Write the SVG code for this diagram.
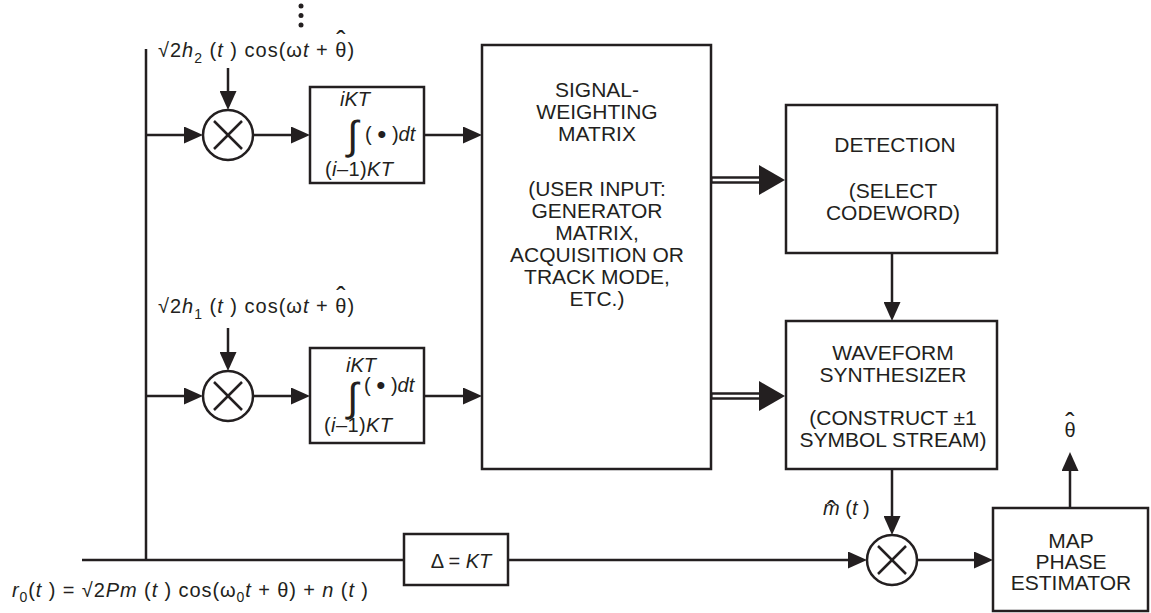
<svg xmlns="http://www.w3.org/2000/svg" width="1151" height="613" viewBox="0 0 1151 613">
<style>
.ln{stroke:#231f20;stroke-width:2.5;fill:none}
.bx{stroke:#231f20;stroke-width:2.5;fill:#fff}
.t{font-family:"Liberation Sans",Arial,sans-serif;font-size:20px;fill:#231f20}
.lb{letter-spacing:1px}
.b{font-family:"Liberation Sans",Arial,sans-serif;font-size:21px;fill:#231f20;text-anchor:middle}
.i{font-style:italic}
.hs{font-size:28px;font-style:normal}
.bu{font-size:26px}
.ig{font-family:"Liberation Sans","DejaVu Sans",sans-serif;font-size:40px;fill:#231f20;text-anchor:middle}
.ar{marker-end:url(#ah)}
.dbl{stroke:#231f20;stroke-width:7.7;fill:none;marker-end:url(#big)}
.dblw{stroke:#fff;stroke-width:2.4;fill:none}
</style>
<defs>
<marker id="ah" markerUnits="userSpaceOnUse" markerWidth="19" markerHeight="17" viewBox="0 0 19 17" refX="9" refY="8.5" orient="auto"><path d="M0,0 L19,8.5 L0,17 z" fill="#231f20"/></marker>
<marker id="big" markerUnits="userSpaceOnUse" markerWidth="26" markerHeight="30" viewBox="0 0 26 30" refX="12" refY="15" orient="auto"><path d="M0,0 L26,15 L0,30 z" fill="#231f20"/></marker>
</defs>

<g id="connectors">
<line class="ln" x1="146" y1="49" x2="146" y2="560"/>
<line class="ln" x1="82" y1="560" x2="404" y2="560"/>
<line class="ln ar" x1="146" y1="135" x2="193" y2="135"/>
<line class="ln ar" x1="146" y1="396" x2="193" y2="396"/>
<line class="ln ar" x1="228" y1="68" x2="228" y2="100"/>
<line class="ln ar" x1="228" y1="328" x2="228" y2="361"/>
<line class="ln ar" x1="253" y1="135" x2="300" y2="135"/>
<line class="ln ar" x1="253" y1="396" x2="300" y2="396"/>
<line class="ln ar" x1="424" y1="135" x2="472" y2="135"/>
<line class="ln ar" x1="424" y1="396" x2="472" y2="396"/>
<line class="dbl" x1="711" y1="180" x2="771" y2="180"/>
<line class="dblw" x1="712.5" y1="180" x2="759" y2="180"/>
<line class="dbl" x1="711" y1="396" x2="771" y2="396"/>
<line class="dblw" x1="712.5" y1="396" x2="759" y2="396"/>
<line class="ln ar" x1="892" y1="253" x2="892" y2="311"/>
<line class="ln ar" x1="892" y1="469" x2="892" y2="525"/>
<line class="ln ar" x1="508" y1="560" x2="857" y2="560"/>
<line class="ln ar" x1="917" y1="560" x2="983" y2="560"/>
<line class="ln ar" x1="1070" y1="508" x2="1070" y2="462"/>
</g>

<g id="dots">
<circle cx="301" cy="6" r="2.5" fill="#231f20"/>
<circle cx="301" cy="15.5" r="2.5" fill="#231f20"/>
<circle cx="301" cy="25" r="2.5" fill="#231f20"/>
</g>

<g id="label-h2">
<text class="t lb" x="158" y="57">√2<tspan class="i">h</tspan><tspan dy="6" font-size="14">2</tspan><tspan dy="-6"> (</tspan><tspan class="i">t</tspan> ) cos(ω<tspan class="i">t</tspan> + θ<tspan class="hs" dx="-11.2" dy="-7">ˆ</tspan><tspan dx="0.9" dy="7">)</tspan></text>
</g>
<g id="label-h1">
<text class="t lb" x="158" y="313">√2<tspan class="i">h</tspan><tspan dy="6" font-size="14">1</tspan><tspan dy="-6"> (</tspan><tspan class="i">t</tspan> ) cos(ω<tspan class="i">t</tspan> + θ<tspan class="hs" dx="-11.2" dy="-7">ˆ</tspan><tspan dx="0.9" dy="7">)</tspan></text>
</g>

<g id="mult1">
<circle class="bx" cx="228" cy="135" r="25"/>
<line class="ln" x1="214" y1="121" x2="242" y2="149"/>
<line class="ln" x1="242" y1="121" x2="214" y2="149"/>
</g>
<g id="mult2">
<circle class="bx" cx="228" cy="396" r="25"/>
<line class="ln" x1="214" y1="382" x2="242" y2="410"/>
<line class="ln" x1="242" y1="382" x2="214" y2="410"/>
</g>

<g id="integrator1">
<rect class="bx" x="310" y="87" width="114" height="96"/>
<text class="t i" x="340" y="106">iKT</text>
<text class="ig" x="352.5" y="149">∫</text>
<text class="t" x="365" y="141">( <tspan class="bu" dy="2">•</tspan><tspan dy="-2"> )</tspan><tspan class="i">dt</tspan></text>
<text class="t" x="325" y="176" textLength="68" lengthAdjust="spacing">(<tspan class="i">i</tspan>–1)<tspan class="i">KT</tspan></text>
</g>
<g id="integrator2">
<rect class="bx" x="310" y="348" width="114" height="95"/>
<text class="t i" x="346" y="372">iKT</text>
<text class="ig" x="352.5" y="411">∫</text>
<text class="t" x="364" y="392">( <tspan class="bu" dy="2">•</tspan><tspan dy="-2"> )</tspan><tspan class="i">dt</tspan></text>
<text class="t" x="324" y="432" textLength="68" lengthAdjust="spacing">(<tspan class="i">i</tspan>–1)<tspan class="i">KT</tspan></text>
</g>

<g id="swm">
<rect class="bx" x="482" y="45" width="229" height="424"/>
<text class="b" x="597" y="97">SIGNAL-</text>
<text class="b" x="597" y="119">WEIGHTING</text>
<text class="b" x="597" y="141">MATRIX</text>
<text class="b" x="597" y="196">(USER INPUT:</text>
<text class="b" x="597" y="218">GENERATOR</text>
<text class="b" x="597" y="240">MATRIX,</text>
<text class="b" x="597" y="262">ACQUISITION OR</text>
<text class="b" x="597" y="284">TRACK MODE,</text>
<text class="b" x="597" y="306">ETC.)</text>
</g>

<g id="detection">
<rect class="bx" x="786" y="105" width="211" height="148"/>
<text class="b" x="895" y="152">DETECTION</text>
<text class="b" x="893" y="198">(SELECT</text>
<text class="b" x="893" y="220">CODEWORD)</text>
</g>

<g id="synthesizer">
<rect class="bx" x="786" y="321" width="211" height="148"/>
<text class="b" x="893" y="360">WAVEFORM</text>
<text class="b" x="893" y="382">SYNTHESIZER</text>
<text class="b" x="893" y="425">(CONSTRUCT ±1</text>
<text class="b" x="893" y="447">SYMBOL STREAM)</text>
</g>

<g id="delay">
<rect class="bx" x="404" y="534" width="104" height="51"/>
<text class="t" x="461" y="568" text-anchor="middle">Δ = <tspan class="i">KT</tspan></text>
</g>

<g id="mult3">
<circle class="bx" cx="892" cy="560" r="25"/>
<line class="ln" x1="878" y1="546" x2="906" y2="574"/>
<line class="ln" x1="906" y1="546" x2="878" y2="574"/>
</g>
<g id="label-m">
<text class="t" x="823" y="515"><tspan class="i">m</tspan><tspan class="hs" dx="-13" dy="5">ˆ</tspan><tspan dx="3.7" dy="-5"> (</tspan><tspan class="i">t</tspan> )</text>
</g>

<g id="map">
<rect class="bx" x="993" y="508" width="155" height="103"/>
<text class="b" x="1071" y="548">MAP</text>
<text class="b" x="1071" y="569">PHASE</text>
<text class="b" x="1071" y="590">ESTIMATOR</text>
</g>
<g id="label-theta">
<text class="t" x="1064.4" y="437">θ<tspan class="hs" dx="-10.2" dy="-5">ˆ</tspan></text>
</g>

<g id="label-r0">
<text class="t" x="12" y="597" textLength="356" lengthAdjust="spacing"><tspan class="i">r</tspan><tspan dy="5" font-size="14">0</tspan><tspan dy="-5">(</tspan><tspan class="i">t</tspan> ) = √2<tspan class="i">Pm</tspan> (<tspan class="i">t</tspan> ) cos(ω<tspan dy="5" font-size="14">0</tspan><tspan dy="-5" class="i">t</tspan> + θ) + <tspan class="i">n</tspan> (<tspan class="i">t</tspan> )</text>
</g>
</svg>
